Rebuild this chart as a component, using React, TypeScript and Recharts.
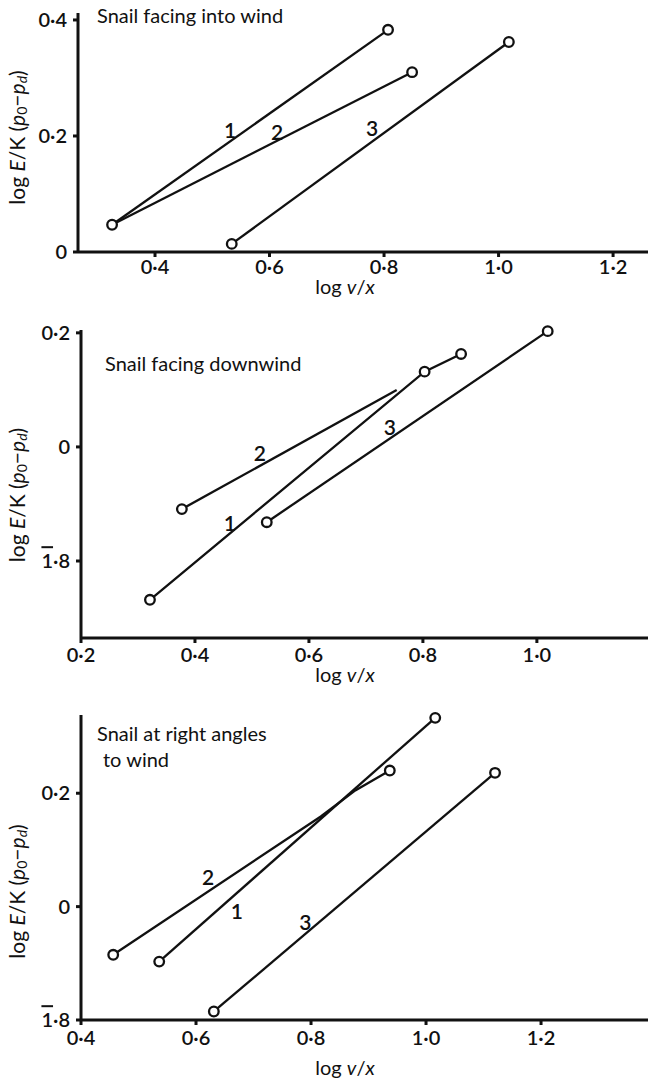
import React from 'react';
import { ComposedChart, Line, Scatter, XAxis, YAxis } from 'recharts';

const FONT = 'Lato, "Open Sans", sans-serif';
const INK = '#111';

// Panel 1: snail facing into wind
const intoLine1 = [{ x: 0.325, y: 0.047 }, { x: 0.807, y: 0.383 }];
const intoLine2 = [{ x: 0.325, y: 0.047 }, { x: 0.849, y: 0.31 }];
const intoLine3 = [{ x: 0.534, y: 0.014 }, { x: 1.018, y: 0.362 }];
const intoPoints = [
  { x: 0.325, y: 0.047 },
  { x: 0.534, y: 0.014 },
  { x: 0.807, y: 0.383 },
  { x: 0.849, y: 0.31 },
  { x: 1.018, y: 0.362 },
];
const intoLabels = [
  { x: 0.531, y: 0.211, text: '1' },
  { x: 0.613, y: 0.208, text: '2' },
  { x: 0.779, y: 0.215, text: '3' },
];

// Panel 2: snail facing downwind
const downLine1 = [{ x: 0.321, y: -0.268 }, { x: 0.803, y: 0.132 }, { x: 0.867, y: 0.163 }];
const downLine2 = [{ x: 0.377, y: -0.109 }, { x: 0.754, y: 0.1 }];
const downLine3 = [{ x: 0.526, y: -0.132 }, { x: 1.019, y: 0.203 }];
const downPoints = [
  { x: 0.321, y: -0.268 },
  { x: 0.803, y: 0.132 },
  { x: 0.867, y: 0.163 },
  { x: 0.377, y: -0.109 },
  { x: 0.526, y: -0.132 },
  { x: 1.019, y: 0.203 },
];
const downLabels = [
  { x: 0.461, y: -0.132, text: '1' },
  { x: 0.514, y: -0.009, text: '2' },
  { x: 0.742, y: 0.035, text: '3' },
];

// Panel 3: snail at right angles to wind
const rightLine1 = [{ x: 0.536, y: -0.097 }, { x: 1.016, y: 0.333 }];
const rightLine2 = [{ x: 0.456, y: -0.085 }, { x: 0.817, y: 0.159 }, { x: 0.877, y: 0.205 }, { x: 0.937, y: 0.24 }];
const rightLine3 = [{ x: 0.631, y: -0.185 }, { x: 1.12, y: 0.236 }];
const rightPoints = [
  { x: 0.536, y: -0.097 },
  { x: 1.016, y: 0.333 },
  { x: 0.456, y: -0.085 },
  { x: 0.937, y: 0.24 },
  { x: 0.631, y: -0.185 },
  { x: 1.12, y: 0.236 },
];
const rightLabels = [
  { x: 0.671, y: -0.007, text: '1' },
  { x: 0.621, y: 0.053, text: '2' },
  { x: 0.79, y: -0.026, text: '3' },
];

const ticks1X = [0.4, 0.6, 0.8, 1.0, 1.2];
const ticks1Y = [0, 0.2, 0.4];
const ticks2X = [0.2, 0.4, 0.6, 0.8, 1.0];
const ticks2Y = [-0.2, 0, 0.2];
const ticks3X = [0.4, 0.6, 0.8, 1.0, 1.2];
const ticks3Y = [-0.2, 0, 0.2];

// old-style log notation: -0.2 is written 1̄·8 (bar over the characteristic)
const TickText = ({ value }: { value: number }) => {
  if (Math.abs(value) < 1e-9) return <>0</>;
  if (value < 0) {
    return (
      <>
        <tspan style={{ textDecoration: 'overline' }}>1</tspan>·{Math.round((1 + value) * 10)}
      </>
    );
  }
  return <>{value.toFixed(1).replace('.', '·')}</>;
};

const XTick = (props: any) => (
  <text x={props.x} y={props.y} dy="0.71em" textAnchor="middle" fontSize={20} fontWeight={600} fontFamily={FONT} fill={INK}>
    <TickText value={props.payload.value} />
  </text>
);

const YTick = (props: any) => (
  <text x={props.x} y={props.y} dy="0.36em" textAnchor="end" fontSize={20} fontWeight={600} fontFamily={FONT} fill={INK}>
    <TickText value={props.payload.value} />
  </text>
);

const OpenCircle = (props: any) => {
  const { cx, cy } = props;
  return <circle cx={cx} cy={cy} r={4.8} fill="#fff" stroke={INK} strokeWidth={2.3} />;
};

const LineNumber = (props: any) => {
  const { cx, cy, payload } = props;
  return (
    <text x={cx} y={cy} textAnchor="middle" dominantBaseline="central" fontSize={21} fontWeight={600} fontFamily={FONT} fill={INK}>
      {payload.text}
    </text>
  );
};

const YLabel = ({ viewBox, shift }: any) => {
  const cx = 16;
  const cy = viewBox.y + viewBox.height / 2 + shift;
  return (
    <text transform={`translate(${cx},${cy}) rotate(-90)`} textAnchor="middle" dominantBaseline="central" fontSize={21} fontFamily={FONT} fill={INK}>
      log <tspan fontStyle="italic">E</tspan>/K (<tspan fontStyle="italic">p</tspan>
      <tspan fontSize={14} dy={5}>0</tspan>
      <tspan dy={-5}>−</tspan>
      <tspan fontStyle="italic">p</tspan>
      <tspan fontSize={14} dy={5} fontStyle="italic">d</tspan>
      <tspan dy={-5}>)</tspan>
    </text>
  );
};

const XLabel = ({ viewBox, below }: any) => {
  return (
    <text x={345} y={viewBox.y + below} textAnchor="middle" dominantBaseline="central" fontSize={20} fontFamily={FONT} fill={INK}>
      log <tspan fontStyle="italic">v</tspan>/<tspan fontStyle="italic">x</tspan>
    </text>
  );
};

type PanelProps = {
  top: number;
  height: number;
  plotTop: number;
  plotBottom: number;
  yAxisWidth: number;
  xDomain: [number, number];
  yDomain: [number, number];
  xTicks: number[];
  yTicks: number[];
  lines: { x: number; y: number }[][];
  points: { x: number; y: number }[];
  labels: { x: number; y: number; text: string }[];
  title: string[];
  titleLeft: number[];
  titleY: number[];
  yLabelShift: number;
  xLabelBelow: number;
  xTickMargin: number;
};

function Panel(p: PanelProps) {
  const axisStyle = { stroke: INK, strokeWidth: 3 };
  return (
    <div style={{ position: 'absolute', left: 0, top: p.top, width: 649, height: p.height }}>
      <ComposedChart
        width={649}
        height={p.height}
        margin={{ top: p.plotTop - p.top, right: 1, bottom: 0, left: 0 }}
      >
        <XAxis
          dataKey="x"
          type="number"
          domain={p.xDomain}
          ticks={p.xTicks}
          interval={0}
          height={p.top + p.height - p.plotBottom}
          axisLine={axisStyle}
          tickLine={axisStyle}
          tickSize={5}
          tickMargin={p.xTickMargin}
          tick={<XTick />}
          label={{ content: (lp: any) => <XLabel {...lp} below={p.xLabelBelow} /> }}
        />
        <YAxis
          dataKey="y"
          type="number"
          domain={p.yDomain}
          ticks={p.yTicks}
          interval={0}
          width={p.yAxisWidth}
          axisLine={axisStyle}
          tickLine={axisStyle}
          tickSize={5}
          tickMargin={6}
          tick={<YTick />}
          label={{ content: (lp: any) => <YLabel {...lp} shift={p.yLabelShift} /> }}
        />
        {p.lines.map((d, i) => (
          <Line
            key={i}
            data={d}
            dataKey="y"
            type="linear"
            stroke={INK}
            strokeWidth={2.3}
            dot={false}
            activeDot={false}
            isAnimationActive={false}
          />
        ))}
        <Scatter data={p.points} dataKey="y" shape={<OpenCircle />} isAnimationActive={false} />
        <Scatter data={p.labels} dataKey="y" shape={<LineNumber />} isAnimationActive={false} />
      </ComposedChart>
      {p.title.map((t, i) => (
        <div
          key={i}
          style={{
            position: 'absolute',
            left: p.titleLeft[i],
            top: p.titleY[i] - p.top - 12,
            fontFamily: FONT,
            fontSize: 20,
            lineHeight: '24px',
            color: INK,
            whiteSpace: 'nowrap',
          }}
        >
          {t}
        </div>
      ))}
    </div>
  );
}

export default function App() {
  return (
    <div style={{ position: 'absolute', left: 0, top: 0, width: 649, height: 1089, background: '#fff' }}>
      <Panel
        top={0}
        height={315}
        plotTop={13}
        plotBottom={252}
        yAxisWidth={78}
        xDomain={[0.2655, 1.261]}
        yDomain={[0, 0.412]}
        xTicks={ticks1X}
        yTicks={ticks1Y}
        lines={[intoLine1, intoLine2, intoLine3]}
        points={intoPoints}
        labels={intoLabels}
        title={['Snail facing into wind']}
        titleLeft={[97]}
        titleY={[15]}
        yLabelShift={5}
        xLabelBelow={34}
        xTickMargin={3}
      />
      <Panel
        top={318}
        height={370}
        plotTop={330}
        plotBottom={638}
        yAxisWidth={81}
        xDomain={[0.2, 1.195]}
        yDomain={[-0.335, 0.205]}
        xTicks={ticks2X}
        yTicks={ticks2Y}
        lines={[downLine1, downLine2, downLine3]}
        points={downPoints}
        labels={downLabels}
        title={['Snail facing downwind']}
        titleLeft={[105]}
        titleY={[363]}
        yLabelShift={11}
        xLabelBelow={36}
        xTickMargin={5}
      />
      <Panel
        top={690}
        height={399}
        plotTop={715}
        plotBottom={1020}
        yAxisWidth={81}
        xDomain={[0.4, 1.386]}
        yDomain={[-0.2, 0.338]}
        xTicks={ticks3X}
        yTicks={ticks3Y}
        lines={[rightLine1, rightLine2, rightLine3]}
        points={rightPoints}
        labels={rightLabels}
        title={['Snail at right angles', 'to wind']}
        titleLeft={[97, 103]}
        titleY={[733, 759]}
        yLabelShift={24}
        xLabelBelow={47}
        xTickMargin={6}
      />
    </div>
  );
}
